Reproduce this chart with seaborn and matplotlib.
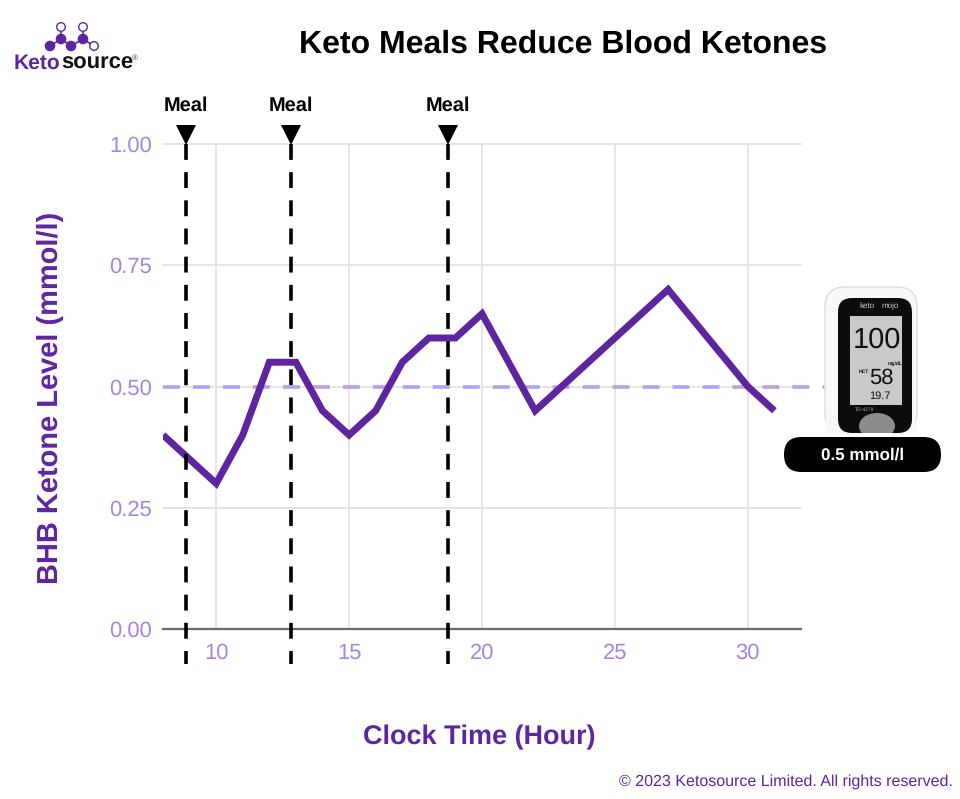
import matplotlib
matplotlib.use("Agg")
import matplotlib.pyplot as plt
from matplotlib.patches import Circle, Ellipse, FancyBboxPatch, Rectangle
import pandas as pd
import seaborn as sns

hours = [8, 10, 11, 12, 13, 14, 15, 16, 17, 18, 19, 20, 22, 27, 30, 31]
bhb = [0.40, 0.30, 0.40, 0.55, 0.55, 0.45, 0.40, 0.45, 0.55, 0.60, 0.60, 0.65, 0.45, 0.70, 0.50, 0.45]
meal_hours = [8.87, 12.82, 18.72]
target_level = 0.5
x_ticks = [10, 15, 20, 25, 30]
y_ticks = [0.00, 0.25, 0.50, 0.75, 1.00]

PURPLE = "#5e25a0"
LIGHT = "#a685e2"
DASH = "#b9a0e6"

sns.set_style("white")
plt.rcParams["font.family"] = ["Liberation Sans", "DejaVu Sans"]
plt.rcParams["text.hinting"] = "no_hinting"
plt.rcParams["text.hinting_factor"] = 1

W, H = 960, 799
fig = plt.figure(figsize=(W / 100, H / 100), dpi=100)
ax = fig.add_axes([163 / W, 1 - 629 / H, (801 - 163) / W, (629 - 144) / H])

# overlay in pixel coords for the logo / meter / titles
ov = fig.add_axes([0, 0, 1, 1], zorder=5)
ov.set_xlim(0, W)
ov.set_ylim(H, 0)
ov.axis("off")

df = pd.DataFrame({"hour": hours, "bhb": bhb})
sns.lineplot(data=df, x="hour", y="bhb", ax=ax, color=PURPLE, linewidth=5, zorder=4,
             solid_joinstyle="miter", solid_capstyle="butt")

ax.set_xlim(8, 32)
ax.set_ylim(0, 1)
ax.set_xticks(x_ticks)
ax.set_yticks(y_ticks)
ax.set_yticklabels([f"{v:.2f}" for v in y_ticks])
ax.grid(True, color="#e3e3e3", linewidth=1.3, clip_on=False)
ax.set_axisbelow(True)
for s in ["top", "left", "right"]:
    ax.spines[s].set_visible(False)
ax.spines["bottom"].set_color("#6b6b6b")
ax.spines["bottom"].set_linewidth(1.6)
ax.tick_params(axis="both", length=0, labelcolor=LIGHT, labelsize=16)
ax.tick_params(axis="x", pad=10)
ax.tick_params(axis="y", pad=8)
ax.set_xlabel("")
ax.set_ylabel("")

# 0.5 reference line runs on under the meter
ax.plot([8, 33.1], [target_level, target_level], color=DASH, lw=2.6, dashes=(4.7, 3.6),
        clip_on=False, zorder=3, dash_capstyle="butt")

for m in meal_hours:
    ax.plot([m, m], [1.0, -0.072], color="black", lw=2.6, dashes=(4.4, 3.4), clip_on=False,
            zorder=5, dash_capstyle="butt")
    ax.plot([m], [1.019], marker="v", markersize=14, color="black", clip_on=False, zorder=6,
            markeredgewidth=0)
    ax.annotate("Meal", xy=(m, 1.0), xytext=(0, 21), textcoords="offset points", ha="center",
                va="bottom", fontsize=14.5, fontweight="bold", color="black", annotation_clip=False)

ov.text(563, 44, "Keto Meals Reduce Blood Ketones", ha="center", va="center", fontsize=23,
        fontweight="bold", color="black")
ov.text(50, 398, "BHB Ketone Level (mmol/l)", ha="center", va="center", rotation=90,
        fontsize=20.6, fontweight="bold", color=PURPLE)
ov.text(479, 737, "Clock Time (Hour)", ha="center", va="center", fontsize=19.7,
        fontweight="bold", color=PURPLE)
ov.text(953, 782, "© 2023 Ketosource Limited. All rights reserved.", ha="right", va="center",
        fontsize=11.5, color=PURPLE)

# logo
for (a, b) in [((50, 46), (61, 39)), ((61, 39), (71, 46)), ((71, 46), (83, 39)), ((83, 39), (94, 46)),
               ((61, 39), (61, 27)), ((83, 39), (83, 27))]:
    ov.plot([a[0], b[0]], [a[1], b[1]], color=PURPLE, lw=1.2, zorder=1)
for c in [(50, 46), (61, 39), (71, 46), (83, 39)]:
    ov.add_patch(Circle(c, 4.6, color=PURPLE, zorder=2))
for c in [(61, 27), (83, 27), (94, 46)]:
    ov.add_patch(Circle(c, 4.3, facecolor="white", edgecolor=PURPLE, lw=1, zorder=2))
ov.text(14, 63, "Keto", ha="left", va="center", fontsize=15, fontweight="bold", color=PURPLE)
ov.text(61, 63, "source", ha="left", va="center", fontsize=15.5, fontweight="bold", color="#111111")
ov.text(135, 58, "®", ha="center", va="center", fontsize=6, color="#444444")

# keto-mojo meter, rough drawing
ov.add_patch(FancyBboxPatch((825, 287), 92, 146, boxstyle="round,pad=0,rounding_size=20",
                            facecolor="#f8f8f8", edgecolor="#dddddd", lw=1, zorder=7))
ov.add_patch(Rectangle((825, 420), 92, 14, facecolor="#f8f8f8", edgecolor="none", zorder=7))
ov.add_patch(FancyBboxPatch((838, 298), 74, 135, boxstyle="round,pad=0,rounding_size=14",
                            facecolor="#0c0c0c", edgecolor="none", zorder=8))
ov.add_patch(Rectangle((850, 316), 52, 89, facecolor="#c9c9c9", edgecolor="none", zorder=9))
ov.add_patch(Ellipse((877, 426), 36, 26, facecolor="#8c8c8c", edgecolor="none", zorder=9))
ov.add_patch(Rectangle((855, 433), 45, 10, facecolor="white", edgecolor="none", zorder=9))
ov.text(875, 306, "keto", ha="right", va="center", fontsize=5.5, color="#cccccc", zorder=10)
ov.text(881, 306, "mojo", ha="left", va="center", fontsize=5.5, color="#cccccc", zorder=10)
ov.text(877, 340, "100", ha="center", va="center", fontsize=21, color="#111111", zorder=10)
ov.text(895, 364, "mg/dL", ha="center", va="center", fontsize=3.5, fontweight="bold", color="#111111", zorder=10)
ov.text(881, 378, "58", ha="center", va="center", fontsize=16, color="#111111", zorder=10)
ov.text(869, 372, "HCT", ha="right", va="center", fontsize=3.5, fontweight="bold", color="#111111", zorder=10)
ov.text(880, 396, "19.7", ha="center", va="center", fontsize=8, color="#111111", zorder=10)
ov.text(855, 410, "TD-4279", ha="left", va="center", fontsize=3.5, color="#aaaaaa", zorder=10)

# value pill
ov.add_patch(FancyBboxPatch((784, 437), 157, 35, boxstyle="round,pad=0,rounding_size=17.4",
                            facecolor="black", edgecolor="none", zorder=11))
ov.text(863, 455, "0.5 mmol/l", ha="center", va="center", fontsize=12, fontweight="bold", color="white", zorder=12)

fig.savefig("out.png", dpi=100)
